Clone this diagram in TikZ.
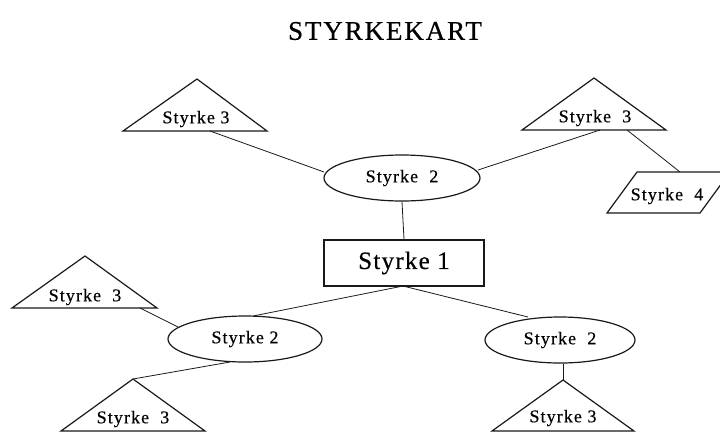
\documentclass[tikz,border=0pt]{standalone}
\usepackage{fontspec}
\setmainfont{Liberation Serif}
\usetikzlibrary{shapes.geometric}
\begin{document}
\begin{tikzpicture}[x=1pt,y=-1pt,
  ink/.style={draw=black!90},
  shapeline/.style={ink,line width=1.2pt,line join=miter},
  link/.style={ink,line width=0.8pt},
  lblfont/.style={font=\fontsize{18}{18}\selectfont\addfontfeature{LetterSpace=6,FakeBold=0.4}},
  lbl/.style={lblfont,inner sep=0pt,text=black},
  oval/.style={shapeline,ellipse,inner sep=0pt,lblfont,text=black},
]
\useasboundingbox (0,0) rectangle (720,432);
\clip (0,0) rectangle (720,432);

% title
\node[inner sep=0pt,text=black,font=\fontsize{27}{27}\selectfont\addfontfeature{LetterSpace=7,FakeBold=0.6}] (title) at (385,31) {STYRKEKART};

% triangles: apex, base left, base right
\draw[shapeline] (197,79) coordinate (t1a) -- (267,131) coordinate (t1r) -- (123,131) coordinate (t1l) -- cycle;
\draw[shapeline] (594,78) coordinate (t2a) -- (666,130) coordinate (t2r) -- (522,130) coordinate (t2l) -- cycle;
\draw[shapeline] (85,256) coordinate (t3a) -- (157,308) coordinate (t3r) -- (12,308) coordinate (t3l) -- cycle;
\draw[shapeline] (133,379) coordinate (t4a) -- (205,431) coordinate (t4r) -- (61,431) coordinate (t4l) -- cycle;
\draw[shapeline] (563,380) coordinate (t5a) -- (634,431) coordinate (t5r) -- (492,431) coordinate (t5l) -- cycle;

% parallelogram
\draw[shapeline] (637,172) -- (730,172) -- (700,213) -- (607,213) -- cycle;

% triangle and parallelogram labels
\node[lbl] (l1) at (196,119) {Styrke 3};
\node[lbl] (l2) at (595,118) {Styrke\ \ 3};
\node[lbl] (l3) at (85,297) {Styrke\ \ 3};
\node[lbl] (l4) at (133,419) {Styrke\ \ 3};
\node[lbl] (l5) at (563,418) {Styrke 3};
\node[lbl] (l6) at (667,196) {Styrke\ \ 4};

% ellipses and the central box
\node[oval,minimum width=156pt,minimum height=46pt] (e1) at (402,178) {Styrke\ \ 2};
\node[oval,minimum width=154pt,minimum height=46pt] (e2) at (245,339) {Styrke 2};
\node[oval,minimum width=150pt,minimum height=46pt] (e3) at (560,340) {Styrke\ \ 2};
\node[shapeline,rectangle,minimum width=160pt,minimum height=46pt,inner sep=0pt,
      font=\fontsize{25}{25}\selectfont\addfontfeature{LetterSpace=5,FakeBold=0.4},text=black] (r) at (404,263) {Styrke 1};

% connection points on the shapes
\coordinate (c1) at (210,131);
\coordinate (c2) at (324,172);
\coordinate (c3) at (478,170);
\coordinate (c4) at (600,130);
\coordinate (c5) at (627,130);
\coordinate (c6) at (680,172);
\coordinate (rb) at (403,286);
\coordinate (e2t) at (253,316);
\coordinate (e3t) at (528,317);
\coordinate (c7) at (140,308);
\coordinate (c8) at (178,327);
\coordinate (c9) at (230,362);

% connectors
\draw[link] (c1) -- (c2);
\draw[link] (c3) -- (c4);
\draw[link] (c5) -- (c6);
\draw[link] (e1.south) -- (r.north);
\draw[link] (rb) -- (e2t);
\draw[link] (rb) -- (e3t);
\draw[link] (c7) -- (c8);
\draw[link] (c9) -- (t4a);
\draw[link] (e3.south -| t5a) -- (t5a);
\end{tikzpicture}
\end{document}
